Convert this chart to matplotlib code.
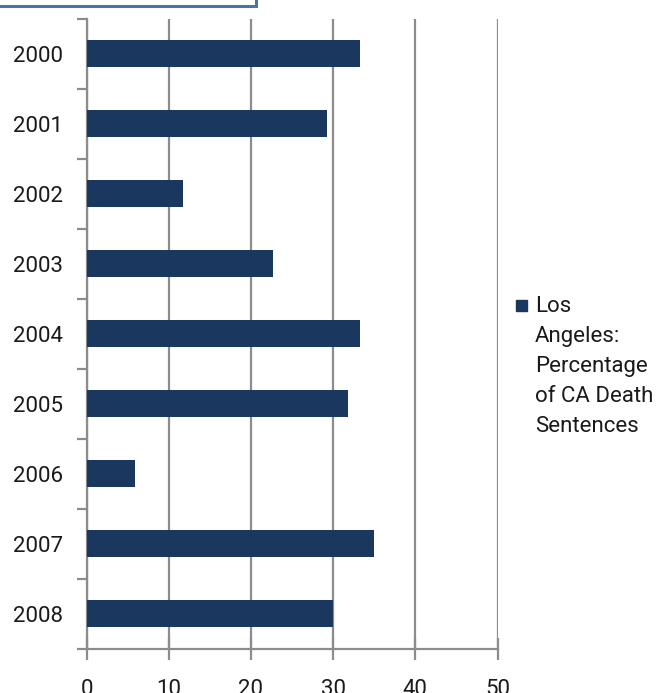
import matplotlib.pyplot as plt
from matplotlib.patches import Rectangle

# Los Angeles share of California death sentences, by year
years = ["2000", "2001", "2002", "2003", "2004", "2005", "2006", "2007", "2008"]
la_pct = [33.3, 29.2, 11.8, 22.7, 33.3, 31.8, 5.9, 35.0, 30.0]
x_ticks = [0, 10, 20, 30, 40, 50]
legend_label = "Los\nAngeles:\nPercentage\nof CA Death\nSentences"

BAR = "#19375f"
GRID = "#8c8c8c"
TXT = "#1a1a1a"
FS = 16

plt.rcParams["font.family"] = ["Roboto", "DejaVu Sans"]

W, H = 662, 693
fig = plt.figure(figsize=(W / 100, H / 100), dpi=100)
ax = fig.add_axes([86.5 / W, (H - 648.7) / H, 411 / W, 630 / H])

pos = list(range(len(years)))
ax.barh(pos, la_pct, height=0.39, color=BAR, zorder=3)

ax.set_xlim(0, 50)
ax.set_ylim(len(years) - 0.5, -0.5)

# vertical gridlines only
ax.set_xticks(x_ticks)
ax.set_xticklabels([str(t) for t in x_ticks], fontsize=FS, color=TXT)
ax.xaxis.grid(True, color=GRID, linewidth=1.6, zorder=0)
ax.tick_params(axis="x", direction="inout", length=16, width=1.6,
               color=GRID, pad=14)

# year labels centred on bars, tick marks on category boundaries
ax.set_yticks(pos)
ax.set_yticklabels(years, fontsize=FS, color=TXT)
ax.tick_params(axis="y", length=0, pad=17)
ax.set_yticks([p - 0.5 for p in pos] + [len(years) - 0.5], minor=True)
ax.tick_params(axis="y", which="minor", length=7, width=1.6, color=GRID)

for s in ["top", "right"]:
    ax.spines[s].set_visible(False)
for s in ["left", "bottom"]:
    ax.spines[s].set_color(GRID)
    ax.spines[s].set_linewidth(1.6)

# legend drawn by hand so the swatch sits next to the first line
fig.patches.append(Rectangle((516 / W, (H - 311) / H), 11 / W, 11 / H,
                             transform=fig.transFigure, color=BAR))
fig.text(535 / W, (H - 296) / H, legend_label, fontsize=FS, color=TXT,
         va="top", ha="left", linespacing=1.57)

# title box peeking in at the top edge
fig.patches.append(Rectangle((-10 / W, (H - 6) / H), 266 / W, 30 / H,
                             transform=fig.transFigure, facecolor="white",
                             edgecolor="#4d72a6", linewidth=2.2))

fig.savefig("out.png", dpi=100)
